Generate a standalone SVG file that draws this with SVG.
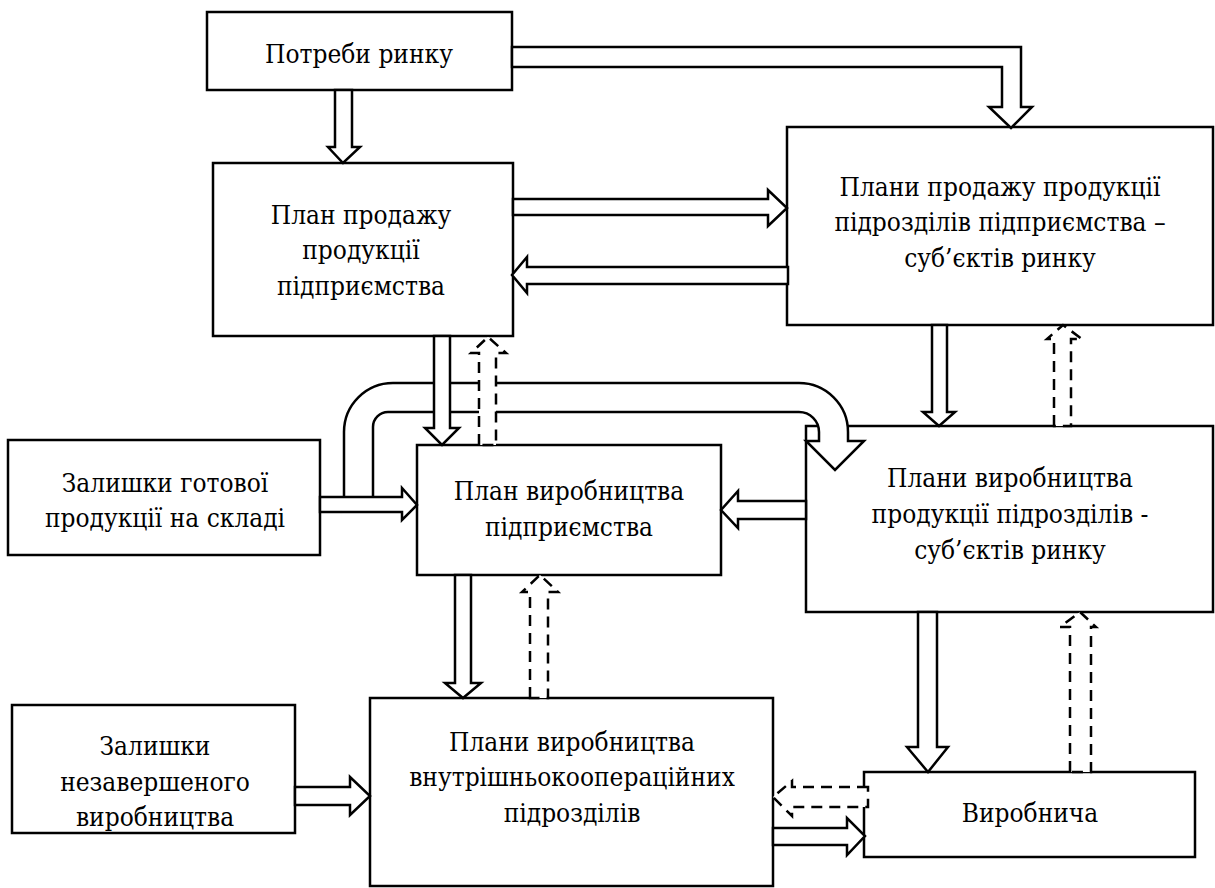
<svg xmlns="http://www.w3.org/2000/svg" width="1215" height="888" viewBox="0 0 1215 888">
<style>
.box{fill:#fff;stroke:#000;stroke-width:2.5}
.ar{fill:#fff;stroke:#000;stroke-width:2.5;stroke-linejoin:miter}
.da{fill:#fff;stroke:#000;stroke-width:2.5;stroke-dasharray:11 7}
.t{font-size:26px;fill:#000;text-anchor:middle}
</style>
<rect width="1215" height="888" fill="#fff"/>
<g font-family="'DejaVu Serif Condensed', 'DejaVu Serif', serif" font-stretch="condensed">
<g id="n1"><rect class="box" x="207" y="12" width="305" height="78"/><text class="t" x="359" y="63">Потреби ринку</text></g>
<g id="n2"><rect class="box" x="213" y="163" width="300" height="173"/><text class="t" x="361" y="224">План продажу</text><text class="t" x="361" y="259">продукції</text><text class="t" x="361" y="295">підприємства</text></g>
<g id="n3"><rect class="box" x="787" y="127" width="426" height="198"/><text class="t" x="1000" y="196">Плани продажу продукції</text><text class="t" x="1000" y="231">підрозділів підприємства –</text><text class="t" x="1000" y="267">суб’єктів ринку</text></g>
<g id="n4"><rect class="box" x="8" y="440" width="312" height="115"/><text class="t" x="165" y="492">Залишки готової</text><text class="t" x="165" y="527">продукції на складі</text></g>
<g id="n5"><rect class="box" x="417" y="445" width="304" height="130"/><text class="t" x="569" y="500">План виробництва</text><text class="t" x="569" y="536">підприємства</text></g>
<g id="n6"><rect class="box" x="806" y="426" width="407" height="186"/><text class="t" x="1010" y="487">Плани виробництва</text><text class="t" x="1010" y="523">продукції підрозділів -</text><text class="t" x="1010" y="559">суб’єктів ринку</text></g>
<g id="n7"><rect class="box" x="12" y="705" width="283" height="128"/><text class="t" x="155" y="755">Залишки</text><text class="t" x="155" y="791">незавершеного</text><text class="t" x="155" y="826">виробництва</text></g>
<g id="n8"><rect class="box" x="370" y="698" width="403" height="188"/><text class="t" x="572" y="751">Плани виробництва</text><text class="t" x="572" y="786">внутрішньокоопераційних</text><text class="t" x="572" y="822">підрозділів</text></g>
<g id="n9"><rect class="box" x="864" y="772" width="331" height="85"/><text class="t" x="1030" y="822">Виробнича</text></g>
</g>
<g id="connectors">
<path class="ar" d="M335 90 L335 147 L328 147 L343 163 L360 147 L352 147 L352 90 Z"/>
<path class="ar" d="M512 47 L1021 47 L1021 107 L1032 107 L1011 128 L989 107 L1002 107 L1002 67 L512 67 Z"/>
<path class="ar" d="M513 199 L768 199 L768 190 L787 208 L768 226 L768 215 L513 215 Z"/>
<path class="ar" d="M788 267 L527 267 L527 257 L512 275 L527 293 L527 284 L788 284 Z"/>
<path class="ar" d="M344 497 L344 432 A49 49 0 0 1 393 383 L799 383 A49 49 0 0 1 848 432 L848 441 L864 441 L835 470 L806 441 L819 441 L819 432 A20 20 0 0 0 799 412 L388 412 A15 15 0 0 0 373 427 L373 497"/>
<path class="ar" d="M434 336 L434 428 L425 428 L442 445 L459 428 L450 428 L450 336 Z"/>
<path class="da" d="M479 445 L479 353 L471 353 L488 337 L506 353 L496 353 L496 445 Z"/>
<path class="ar" d="M320 497 L402 497 L402 488 L417 505 L402 520 L402 512 L320 512 Z"/>
<path class="ar" d="M806 501 L738 501 L738 491 L721 510 L738 528 L738 519 L806 519 Z"/>
<path class="ar" d="M932 325 L932 412 L923 412 L939 426 L955 412 L947 412 L947 325 Z"/>
<path class="da" d="M1054 426 L1054 339 L1047 339 L1063 325 L1082 339 L1071 339 L1071 426 Z"/>
<path class="ar" d="M455 575 L455 683 L445 683 L463 698 L481 683 L471 683 L471 575 Z"/>
<path class="da" d="M530 698 L530 592 L522 592 L540 575 L558 592 L548 592 L548 698 Z"/>
<path class="ar" d="M918 612 L918 747 L907 747 L928 772 L948 747 L937 747 L937 612 Z"/>
<path class="da" d="M1070 772 L1070 627 L1060 627 L1080 612 L1096 627 L1091 627 L1091 772 Z"/>
<path class="da" d="M868 787 L792 787 L792 781 L773 797 L792 816 L792 807 L868 807 Z"/>
<path class="ar" d="M773 828 L847 828 L847 818 L865 836 L847 855 L847 845 L773 845 Z"/>
<path class="ar" d="M295 787 L350 787 L350 777 L370 796 L350 815 L350 805 L295 805 Z"/>
</g>
</svg>
